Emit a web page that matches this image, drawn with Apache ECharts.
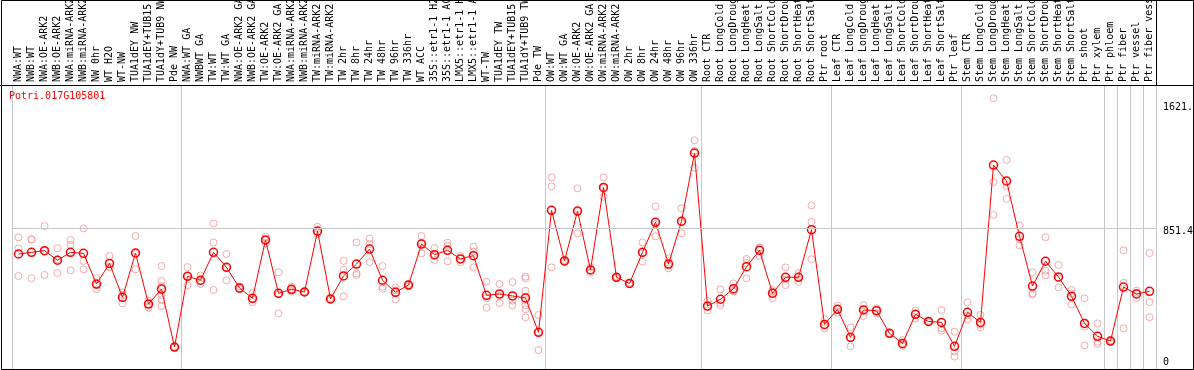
<!DOCTYPE html>
<html>
<head>
<meta charset="utf-8">
<script src="https://cdn.jsdelivr.net/npm/echarts@6/dist/echarts.min.js"></script>
<style>
html,body{margin:0;padding:0;background:#fff;}
#chart{width:1194px;height:370px;}
</style>
</head>
<body>
<div id="chart"></div>
<script>
const geneId = 'Potri.017G105801';

const categories = [
  'NWA:WT','NWB:WT','NWA:OE-ARK2','NWB:OE-ARK2','NWA:miRNA-ARK2','NWB:miRNA-ARK2','NW 0hr','WT H2O','WT-NW','TUA1dEY NW','TUA1dEY+TUB15','TUA1dY+TUB9 NW','Pde NW',
  'NWA:WT GA','NWBWT GA','TW:WT','TW:WT GA','NWA:OE-ARK2 GA','NWB:OE-ARK2 GA','TW:OE-ARK2','TW:OE-ARK2 GA','NWA:miRNA-ARK2','NWB:miRNA-ARK2','TW:miRNA-ARK2','TW:miRNA-ARK2','TW 2hr','TW 8hr','TW 24hr','TW 48hr','TW 96hr','TW 336hr','WT ACC','35S::etr1-1 H2','35S::etr1-1 AC','LMX5::etr1-1 H','LMX5::etr1-1 A','WT-TW','TUA1dEY TW','TUA1dEY+TUB15','TUA1dY+TUB9 TW','Pde TW',
  'OW:WT','OW:WT GA','OW:OE-ARK2','OW:OE-ARK2 GA','OW:miRNA-ARK2','OW:miRNA-ARK2','OW 2hr','OW 8hr','OW 24hr','OW 48hr','OW 96hr','OW 336hr',
  'Root CTR','Root LongCold','Root LongDroug','Root LongHeat','Root LongSalt','Root ShortCold','Root ShortDrou','Root ShortHeat','Root ShortSalt','Ptr root',
  'Leaf CTR','Leaf LongCold','Leaf LongDroug','Leaf LongHeat','Leaf LongSalt','Leaf ShortCold','Leaf ShortDrou','Leaf ShortHeat','Leaf ShortSalt','Ptr leaf',
  'Stem CTR','Stem LongCold','Stem LongDroug','Stem LongHeat','Stem LongSalt','Stem ShortCold','Stem ShortDrou','Stem ShortHeat','Stem ShortSalt','Ptr shoot','Ptr xylem',
  'Ptr phloem','Ptr fiber','Ptr vessel','Ptr fiber vess'
];

// indices of categories that start a new group (a grey separator is drawn before them)
const groupStarts = [0, 13, 41, 53, 63, 73, 84, 85, 86, 87];

// mean expression per category
const means = [
  696,706,716,658,706,700,514,639,434,702,393,484,133,
  561,537,706,615,490,428,781,458,482,466,835,424,563,635,726,537,464,508,756,692,718,666,686,446,454,442,430,222,
  960,654,956,599,1099,555,518,706,888,635,894,1307,
  381,422,486,619,718,458,555,555,843,270,
  361,192,357,353,216,155,331,288,282,137,
  343,282,1234,1138,803,502,652,557,440,276,198,
  169,496,454,470
];

// individual replicate values per category
const replicates = [
  [797,730,563],[785,549,784],[865,569,714],[730,581,663],[781,750,597],[851,654,603],[549,508,482],[684,619,615],[464,397,448],[805,603,698],[413,371,393],[623,533,502,448,418,381],[133,130,136],
  [617,506,561],[565,514,532],[881,766,478],[696,537,612],[500,484,486],[458,405,421],[801,760,781],[585,337,452],[498,470,478],[470,462,466],[861,817,827],[428,420,424],[654,599,440],[766,579,569],[789,756,647],[623,498,486],[494,422,476],[515,502,508],[805,700,763],[732,660,684],[764,746,652],[684,647,667],[740,710,615],[528,428,371],[514,442,399],[526,413,385],[559,549,474,418,385,361,313],[327,115,224],
  [1160,1105,615],[660,648,654],[1093,821,954],[615,583,599],[1160,1043,1094],[560,550,555],[522,514,518],[766,650,702],[984,803,877],[670,609,626],[972,821,889],[1384,1218,1319],
  [411,353,379],[482,385,400],[518,468,472],[666,549,642],[736,684,734],[478,428,468],[615,508,542],[579,528,558],[990,890,664],[301,246,263],
  [383,341,359],[252,137,187],[387,321,363],[367,337,355],[220,212,216],[175,141,149],[353,307,333],[292,284,288],[357,246,232],[226,105,75],
  [403,301,325],[327,252,268],[1638,1132,932],[1265,1107,1029],[869,785,748],[585,458,450],[797,595,567],[629,549,494],[478,458,391],[428,256,143],[276,165,151],
  [175,165,169],[718,522,246],[474,428,460],[702,405,313]
];

const yTickValues = [0, 851.4, 1621.7];
const yMax = 1718.6;

const FONT = 'DejaVu Sans Mono';
const GRID_LEFT = 12, GRID_RIGHT = 38, GRID_TOP = 85, GRID_BOTTOM = 1;
const GREY = '#c8c8c8';

const repData = [];
replicates.forEach((arr, i) => arr.forEach(v => repData.push([i, v])));

const isGroupStart = (idx) => groupStarts.indexOf(idx) >= 0;

const chart = echarts.init(document.getElementById('chart'), null, {renderer: 'canvas'});
chart.setOption({
  animation: false,
  backgroundColor: '#ffffff',
  title: {
    text: geneId,
    left: 9, top: 91, padding: 0,
    textStyle: {color: '#ff0000', fontSize: 10, fontWeight: 'normal', fontFamily: FONT}
  },
  grid: {left: GRID_LEFT, right: GRID_RIGHT, top: GRID_TOP, bottom: GRID_BOTTOM, outerBoundsMode: 'none'},
  xAxis: {
    type: 'category',
    position: 'top',
    data: categories,
    boundaryGap: true,
    axisLine: {show: true, lineStyle: {color: '#000', width: 1}},
    axisTick: {show: true, interval: isGroupStart, length: GRID_TOP, lineStyle: {color: GREY, width: 1}},
    splitLine: {show: true, interval: isGroupStart, lineStyle: {color: GREY, width: 1}},
    axisLabel: {
      show: true, interval: 0, rotate: 90, margin: 3,
      color: '#000', fontSize: 10, fontFamily: FONT
    }
  },
  yAxis: {
    type: 'value',
    position: 'right',
    min: 0, max: yMax,
    axisLine: {show: false},
    axisTick: {show: false},
    splitLine: {show: false},
    axisLabel: {
      customValues: yTickValues,
      margin: 7,
      color: '#000', fontSize: 10, fontFamily: FONT,
      formatter: function (v) {
        if (v === 0) return '{z|0}';
        if (v > 1000) return '{b|' + v + '}';
        return '{a|' + v + '}';
      },
      rich: {
        z: {padding: [0, 0, 14, 0], fontSize: 10, fontFamily: FONT, color: '#000'},
        a: {padding: [7, 0, 0, 0], fontSize: 10, fontFamily: FONT, color: '#000'},
        b: {padding: [12, 0, 0, 0], fontSize: 10, fontFamily: FONT, color: '#000'}
      }
    }
  },
  graphic: [
    {type: 'rect', silent: true, z: 100, shape: {x: 1.5, y: 0.5, width: 1192, height: 369},
     style: {fill: null, stroke: '#000', lineWidth: 1}},
    {type: 'line', silent: true, z: 100, shape: {x1: 0, y1: 85.5, x2: 1194, y2: 85.5},
     style: {stroke: '#000', lineWidth: 1}},
    {type: 'line', silent: true, z: 100, shape: {x1: 1156.5, y1: 0, x2: 1156.5, y2: 85},
     style: {stroke: '#000', lineWidth: 1}}
  ],
  series: [
    {
      type: 'scatter',
      name: 'replicates',
      data: repData,
      symbol: 'circle',
      symbolSize: 7,
      silent: true,
      z: 2,
      itemStyle: {color: 'rgba(255,255,255,0)', borderColor: '#f09696', borderWidth: 1},
      markLine: {
        silent: true,
        symbol: ['none', 'none'],
        label: {show: false},
        lineStyle: {color: GREY, width: 1, type: 'solid'},
        data: [{yAxis: yTickValues[1]}]
      }
    },
    {
      type: 'line',
      name: 'mean',
      data: means,
      symbol: 'circle',
      symbolSize: 8,
      showAllSymbol: true,
      silent: true,
      z: 3,
      itemStyle: {color: 'rgba(255,255,255,0)', borderColor: '#ff0000', borderWidth: 1.5},
      lineStyle: {color: '#ff0000', width: 1}
    }
  ]
});
</script>
</body>
</html>
